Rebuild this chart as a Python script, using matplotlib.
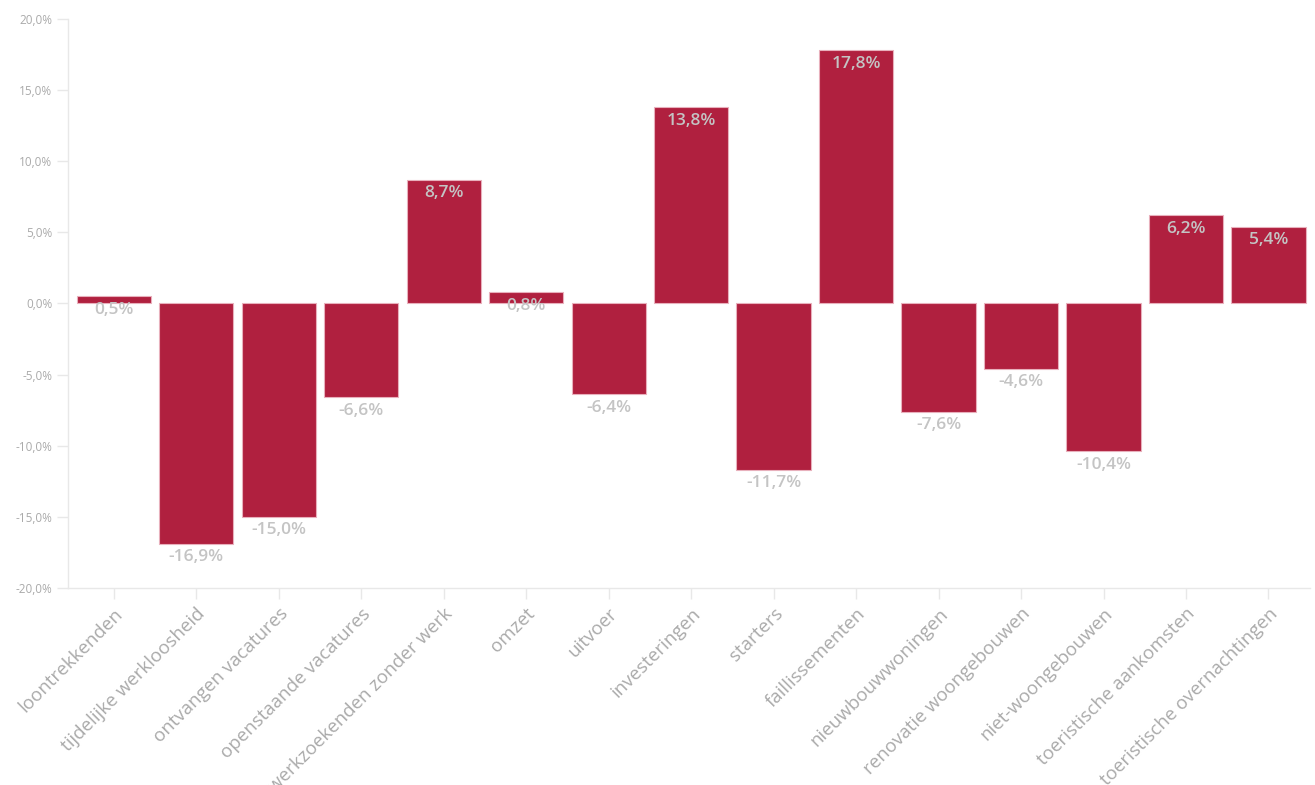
import numpy as np
import matplotlib.pyplot as plt

plt.rcParams['font.family'] = ['Open Sans', 'DejaVu Sans']

categorieen = ['loontrekkenden', 'tijdelijke werkloosheid', 'ontvangen vacatures',
               'openstaande vacatures', 'werkzoekenden zonder werk', 'omzet', 'uitvoer',
               'investeringen', 'starters', 'faillissementen', 'nieuwbouwwoningen',
               'renovatie woongebouwen', 'niet-woongebouwen', 'toeristische aankomsten',
               'toeristische overnachtingen']
waarden = [0.5, -16.9, -15.0, -6.6, 8.7, 0.8, -6.4, 13.8, -11.7, 17.8, -7.6, -4.6, -10.4, 6.2, 5.4]
yticks = [-20, -15, -10, -5, 0, 5, 10, 15, 20]

rood = '#b0203f'
grijs = '#c4c4c4'
lijn = '#e8e8e8'

fig = plt.figure(figsize=(13.15, 7.85), dpi=100)
ax = fig.add_axes([0.052, 0.251, 0.944, 0.725])

x = np.arange(len(categorieen))
ax.bar(x, waarden, width=0.9, color=rood, edgecolor='#e8b0bc', linewidth=0.8)

for xi, v in zip(x, waarden):
    tekst = f"{v:.1f}%".replace('.', ',')
    ax.annotate(tekst, (xi, v), xytext=(0, -4), textcoords='offset points',
                ha='center', va='top', fontsize=12.5, fontweight='semibold', color=grijs)

ax.set_xlim(-0.55, len(categorieen) - 0.5)
ax.set_ylim(-20, 20)
ax.set_yticks(yticks)
ax.set_yticklabels([f"{t:.1f}%".replace('.', ',') for t in yticks])
ax.set_xticks(x)
ax.set_xticklabels(categorieen, rotation=45, ha='right', rotation_mode='anchor')

for s in ['top', 'right']:
    ax.spines[s].set_visible(False)
for s in ['left', 'bottom']:
    ax.spines[s].set_color(lijn)
    ax.spines[s].set_linewidth(1)

ax.tick_params(axis='y', colors=lijn, labelcolor='#aaaaaa', labelsize=8.5, length=8, width=1)
ax.tick_params(axis='x', colors=lijn, labelcolor='#aaaaaa', labelsize=13.5, length=8, width=1, pad=4)

fig.savefig('out.png', dpi=100)
